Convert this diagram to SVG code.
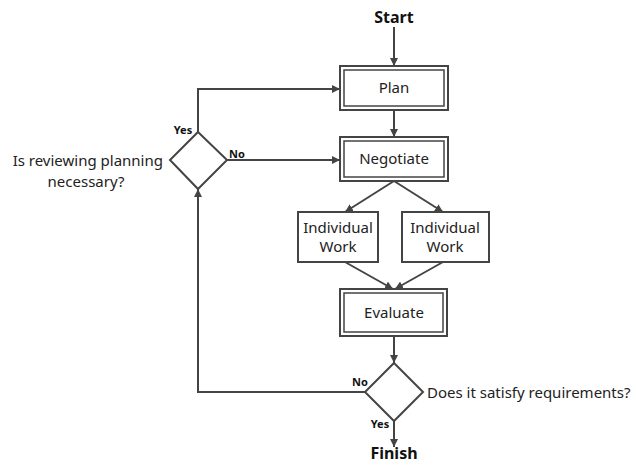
<svg xmlns="http://www.w3.org/2000/svg" width="636" height="465" viewBox="0 0 636 465">
<style>
.t{font-family:"Noto Sans","Open Sans",sans-serif;fill:#222;font-size:15px}
.b{font-family:"Noto Sans","Open Sans",sans-serif;fill:#111;font-weight:bold}
.box{fill:#fff;stroke:#444;stroke-width:2}
.in{fill:none;stroke:#444;stroke-width:1.5}
.ln{fill:none;stroke:#444;stroke-width:2}
</style>
<defs>
<marker id="ar" viewBox="0 0 10 10" refX="10" refY="5" markerWidth="4" markerHeight="4" orient="auto" markerUnits="strokeWidth">
<path d="M0,0 L10,5 L0,10 z" fill="#444"/>
</marker>
</defs>
<rect width="636" height="465" fill="#fff"/>
<g id="connectors">
<path class="ln" d="M394,27 V66" marker-end="url(#ar)"/>
<path class="ln" d="M394,110 V137" marker-end="url(#ar)"/>
<path class="ln" d="M198,132 V89 H340" marker-end="url(#ar)"/>
<path class="ln" d="M227,160 H340" marker-end="url(#ar)"/>
<path class="ln" d="M394,181 L345,212" marker-end="url(#ar)"/>
<path class="ln" d="M394,181 L443,212" marker-end="url(#ar)"/>
<path class="ln" d="M345,262 L393,289" marker-end="url(#ar)"/>
<path class="ln" d="M443,262 L395,289" marker-end="url(#ar)"/>
<path class="ln" d="M394,336 V363" marker-end="url(#ar)"/>
<path class="ln" d="M365,392 H198 V189" marker-end="url(#ar)"/>
<path class="ln" d="M394,421 V447" marker-end="url(#ar)"/>
</g>
<g id="start"><text class="b" x="394" y="23" font-size="16" text-anchor="middle">Start</text></g>
<g id="plan">
<rect class="box" x="340" y="66" width="108" height="44"/>
<rect class="in" x="344" y="70" width="100" height="36"/>
<text class="t" x="394" y="93" text-anchor="middle">Plan</text>
</g>
<g id="negotiate">
<rect class="box" x="340" y="137" width="108" height="44"/>
<rect class="in" x="344" y="141" width="100" height="36"/>
<text class="t" x="394" y="164" text-anchor="middle">Negotiate</text>
</g>
<g id="work1">
<rect class="box" x="298" y="212" width="80" height="50"/>
<text class="t" x="338" y="233" text-anchor="middle">Individual</text>
<text class="t" x="338" y="252" text-anchor="middle">Work</text>
</g>
<g id="work2">
<rect class="box" x="402" y="212" width="87" height="50"/>
<text class="t" x="445" y="233" text-anchor="middle">Individual</text>
<text class="t" x="445" y="252" text-anchor="middle">Work</text>
</g>
<g id="evaluate">
<rect class="box" x="340" y="289" width="107" height="47"/>
<rect class="in" x="344" y="293" width="99" height="39"/>
<text class="t" x="394" y="318" text-anchor="middle">Evaluate</text>
</g>
<g id="decision1">
<path class="box" d="M198,132 L227,160 L198,189 L170,160 Z"/>
<text class="t" x="163" y="166" font-size="16" text-anchor="end">Is reviewing planning</text>
<text class="t" x="86" y="187" font-size="16" text-anchor="middle">necessary?</text>
<text class="b" x="183" y="134" font-size="11" text-anchor="middle">Yes</text>
<text class="b" x="229" y="158" font-size="11">No</text>
</g>
<g id="decision2">
<path class="box" d="M394,363 L423,392 L394,421 L365,392 Z"/>
<text class="t" x="427" y="398" font-size="16">Does it satisfy requirements?</text>
<text class="b" x="352" y="386" font-size="11">No</text>
<text class="b" x="380" y="428" font-size="11" text-anchor="middle">Yes</text>
</g>
<g id="finish"><text class="b" x="394" y="459" font-size="16" text-anchor="middle">Finish</text></g>
</svg>
